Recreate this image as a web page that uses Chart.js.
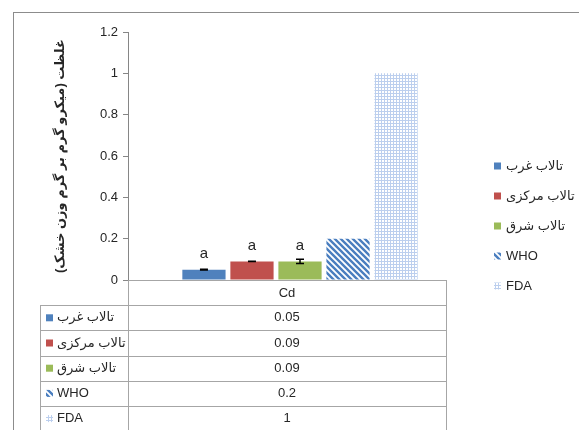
<!DOCTYPE html>
<html>
<head>
<meta charset="utf-8">
<script src="https://cdn.jsdelivr.net/npm/chart.js@4.4.0/dist/chart.umd.min.js"></script>
<style>
  html, body { margin: 0; padding: 0; background: #fff; }
  #wrap { width: 579px; height: 430px; }
</style>
</head>
<body>
<div id="wrap"><canvas id="chart" width="579" height="430"></canvas></div>
<script>
// data
const categories = ["Cd"];
const seriesNames = ["تالاب غرب", "تالاب مرکزی", "تالاب شرق", "WHO", "FDA"];
const westValues = [0.05];
const centralValues = [0.09];
const eastValues = [0.09];
const whoValues = [0.2];
const fdaValues = [1];
const westErr = [0.002];
const centralErr = [0.001];
const eastErr = [0.01];
const sigLetters = ["a", "a", "a", "", ""];
const yMin = 0, yMax = 1.2, yStep = 0.2;
const yTitle = "\u200Fغلظت (میکرو گرم بر گرم وزن خشک)\u200F";

const FONT = "'Liberation Sans', 'DejaVu Sans', sans-serif";
const TXT = "#262626";
const LINE = "#a6a6a6";
const tableLeft = 40, tableRight = 446;

function stripePattern() {
  const c = document.createElement("canvas");
  c.width = 6; c.height = 6;
  const g = c.getContext("2d");
  g.fillStyle = "#fff"; g.fillRect(0, 0, 6, 6);
  g.strokeStyle = "#4a7ebf"; g.lineWidth = 2.4;
  g.beginPath();
  g.moveTo(-1, -1); g.lineTo(7, 7);
  g.moveTo(-4, 2); g.lineTo(4, 10);
  g.moveTo(2, -4); g.lineTo(10, 4);
  g.stroke();
  return g.createPattern(c, "repeat");
}
function dotPattern() {
  const c = document.createElement("canvas");
  c.width = 3; c.height = 3;
  const g = c.getContext("2d");
  g.fillStyle = "#fff"; g.fillRect(0, 0, 3, 3);
  g.fillStyle = "#bccfee";
  g.fillRect(0, 0, 3, 1);
  g.fillRect(0, 0, 1, 3);
  return g.createPattern(c, "repeat");
}

const ctx = document.getElementById("chart").getContext("2d");
const fills = ["#4f81bd", "#c0504d", "#9bbb59", stripePattern(), dotPattern()];
const values = [westValues, centralValues, eastValues, whoValues, fdaValues];
const errs = [westErr, centralErr, eastErr, null, null];

const extras = {
  id: "extras",
  beforeDraw(chart) {
    const c = chart.ctx;
    c.save();
    c.strokeStyle = "#8c8c8c";
    c.lineWidth = 1;
    c.strokeRect(13.5, 12.5, 700, 700);
    c.restore();
  },
  afterDatasetsDraw(chart) {
    const c = chart.ctx;
    const y = chart.scales.y;
    c.save();
    // error bars + letters
    chart.data.datasets.forEach(function (ds, i) {
      const bar = chart.getDatasetMeta(i).data[0];
      const v = ds.data[0];
      if (errs[i]) {
        const e = errs[i][0];
        const y1 = y.getPixelForValue(v + e), y2 = y.getPixelForValue(v - e);
        c.strokeStyle = "#000"; c.lineWidth = 1.5;
        c.beginPath();
        c.moveTo(bar.x, y1); c.lineTo(bar.x, y2);
        c.moveTo(bar.x - 4, y1); c.lineTo(bar.x + 4, y1);
        c.moveTo(bar.x - 4, y2); c.lineTo(bar.x + 4, y2);
        c.stroke();
      }
      if (sigLetters[i]) {
        c.fillStyle = TXT;
        c.font = "15px " + FONT;
        c.textAlign = "center"; c.textBaseline = "middle";
        c.fillText(sigLetters[i], bar.x, bar.y - 16);
      }
    });
    c.restore();
  },
  afterDraw(chart) {
    const c = chart.ctx;
    const a = chart.chartArea;
    const rowH = 25.2;
    c.save();
    // legend
    c.font = "13px " + FONT;
    c.textBaseline = "middle"; c.textAlign = "left";
    seriesNames.forEach(function (name, i) {
      const ly = 166 + i * 30;
      c.fillStyle = fills[i];
      c.fillRect(494, ly - 3.5, 7, 7);
      c.fillStyle = TXT;
      c.fillText(name, 506, ly);
    });
    // data table
    c.strokeStyle = LINE; c.lineWidth = 1;
    c.beginPath();
    c.moveTo(a.left, a.bottom + 0.5); c.lineTo(tableRight + 1, a.bottom + 0.5);
    c.moveTo(a.left + 0.5, a.bottom); c.lineTo(a.left + 0.5, 440);
    c.moveTo(tableRight + 0.5, a.bottom); c.lineTo(tableRight + 0.5, 440);
    c.moveTo(tableLeft + 0.5, a.bottom + rowH); c.lineTo(tableLeft + 0.5, 440);
    for (let r = 1; r <= 6; r++) {
      const ry = Math.round(a.bottom + r * rowH) + 0.5;
      c.moveTo(tableLeft, ry); c.lineTo(tableRight + 1, ry);
    }
    c.stroke();
    const cx = (a.left + tableRight) / 2;
    c.fillStyle = TXT;
    c.textAlign = "center";
    c.fillText(categories[0], cx, a.bottom + rowH / 2 + 1);
    seriesNames.forEach(function (name, i) {
      const ry = a.bottom + (i + 1.5) * rowH;
      c.textAlign = "center";
      c.fillStyle = TXT;
      c.fillText(String(values[i][0]), cx, ry);
      c.fillStyle = fills[i];
      c.fillRect(46, ry - 3.5, 7, 7);
      c.fillStyle = TXT;
      c.textAlign = "left";
      c.fillText(name, 57, ry);
    });
    c.restore();
  }
};

new Chart(ctx, {
  type: "bar",
  data: {
    labels: categories,
    datasets: seriesNames.map(function (name, i) {
      return {
        label: name,
        data: values[i],
        backgroundColor: fills[i],
        borderWidth: 0,
        categoryPercentage: 0.698,
        barPercentage: 0.9,
      };
    }),
  },
  options: {
    responsive: false,
    animation: false,
    layout: { padding: { left: 49, top: 32, right: 107, bottom: 150 } },
    plugins: { legend: { display: false }, tooltip: { enabled: false } },
    scales: {
      x: { display: false },
      y: {
        min: yMin,
        max: yMax,
        ticks: {
          stepSize: yStep, padding: 5, color: TXT, font: { family: FONT, size: 13 },
          callback: function (v) { return String(Number(v.toFixed(2))); },
        },
        grid: { drawOnChartArea: false, tickLength: 5, color: "#868686" },
        border: { color: "#868686" },
        title: { display: true, text: yTitle, color: TXT, font: { family: FONT, size: 13, weight: "bold" } },
        afterFit: function (s) { s.width = 79; },
      },
    },
  },
  plugins: [extras],
});
</script>
</body>
</html>
